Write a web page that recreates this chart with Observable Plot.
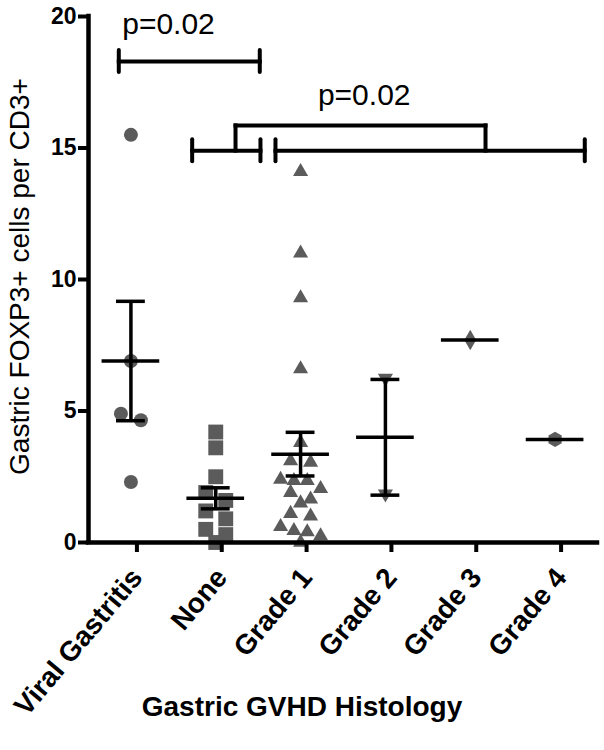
<!DOCTYPE html>
<html><head><meta charset="utf-8">
<script src="https://cdn.jsdelivr.net/npm/d3@7"></script>
<script src="https://cdn.jsdelivr.net/npm/@observablehq/plot@0.6"></script>
<style>body{margin:0;background:#fff}</style>
</head><body><div id="chart"></div>
<script>
// ---- data ----
const categories = ["Viral Gastritis", "None", "Grade 1", "Grade 2", "Grade 3", "Grade 4"];
const viralValues = [15.5, 6.9, 4.9, 4.65, 2.3];
const noneValues = [4.2, 3.6, 2.5, 1.9, 1.6, 1.2, 0.9, 0.5, 0.3, 0.0];
const grade1Values = [14.1, 11.0, 9.3, 6.6, 3.8, 3.1, 3.05, 2.4, 2.35, 2.35, 2.05, 1.9, 1.65, 1.5, 1.1, 1.0, 0.6, 0.45, 0.4, 0.25, 0.0];
const grade2Values = [6.25, 1.85];
const grade3Values = [7.7];
const grade4Values = [3.92];
const groupMeans = [6.9, 1.68, 3.36, 4.0, 7.7, 3.92];
const groupSEM = [2.27, 0.40, 0.83, 2.2, null, null];
const yTicks = [0, 5, 10, 15, 20];
const pLabels = ["p=0.02", "p=0.02"];
const yTitle = "Gastric FOXP3+ cells per CD3+";
const xTitle = "Gastric GVHD Histology";

// ---- layout ----
const W = 604, H = 750;
const mL = 88, mR = 7, mT = 16, mB = 208;
const pxX = (W - mL - mR) / 6;      // px per category unit
const pxY = (H - mT - mB) / 20;     // px per y unit
const grey = "#5b5b5b";
const font = "'Liberation Sans', Arial, sans-serif";

// inverted triangle symbol
const triangleDown = {
  draw(context, size) {
    const s3 = Math.sqrt(3);
    const y = -Math.sqrt(size / (s3 * 3));
    context.moveTo(0, -y * 2);
    context.lineTo(-s3 * y, y);
    context.lineTo(s3 * y, y);
    context.closePath();
  }
};

const groups = [
  {values: viralValues, symbol: "circle", r: 7},
  {values: noneValues, symbol: "square", r: 8.4},
  {values: grade1Values, symbol: "triangle", r: 5.6},
  {values: grade2Values, symbol: triangleDown, r: 5.6},
  {values: grade3Values, symbol: "diamond", r: 6.2},
  {values: grade4Values, symbol: "hexagon", r: 6.6}
];

// scatter-dot layout: points binned into rows, each row centred on the category
function dodge(values, i) {
  const rowH = 10 / pxY;
  const sorted = values.slice().sort((a, b) => b - a);
  const rows = [];
  for (const v of sorted) {
    const row = rows[rows.length - 1];
    if (row && row[0] - v < rowH) row.push(v); else rows.push([v]);
  }
  const out = [];
  rows.forEach(row => {
    const n = row.length;
    const step = n <= 2 ? 20 : Math.min(20, 40 / (n - 1));
    row.forEach((v, k) => out.push({x: i + (k - (n - 1) / 2) * step / pxX, v}));
  });
  return out;
}

const summary = groupMeans.map((m, i) => ({i, m, s: groupSEM[i]}));
const withSEM = summary.filter(d => d.s != null);

// bracket annotations (data units)
const bracketLines = [
  {x1: -0.143, x2: 1.519, y1: 18.29, y2: 18.29},
  {x1: 0.722, x2: 1.527, y1: 14.9, y2: 14.9},
  {x1: 1.704, x2: 5.35, y1: 14.9, y2: 14.9},
  {x1: 1.233, x2: 4.18, y1: 15.86, y2: 15.86},
  {x1: 1.233, x2: 1.233, y1: 14.9, y2: 15.86},
  {x1: 4.18, x2: 4.18, y1: 14.9, y2: 15.86}
];
const bracketCaps = [
  {x: -0.143, y: 18.29}, {x: 1.519, y: 18.29},
  {x: 0.722, y: 14.9}, {x: 1.527, y: 14.9},
  {x: 1.704, y: 14.9}, {x: 5.35, y: 14.9}
];
const pText = [{x: 0.443, y: 19.7, t: pLabels[0]}, {x: 2.75, y: 17.0, t: pLabels[1]}];

const capH = 11 / pxY, meanHalf = 0.34, capHalf = 0.17;

const marks = [];
groups.forEach((g, i) => {
  marks.push(Plot.dot(dodge(g.values, i), {x: "x", y: "v", symbol: () => g.symbol, r: g.r, fill: grey, stroke: "none"}));
});
marks.push(
  // error bars and means
  Plot.ruleX(withSEM, {x: "i", y1: d => d.m - d.s, y2: d => d.m + d.s, stroke: "#000", strokeWidth: 3.5}),
  Plot.ruleY(withSEM, {y: d => d.m + d.s, x1: d => d.i - capHalf, x2: d => d.i + capHalf, stroke: "#000", strokeWidth: 3.5}),
  Plot.ruleY(withSEM, {y: d => d.m - d.s, x1: d => d.i - capHalf, x2: d => d.i + capHalf, stroke: "#000", strokeWidth: 3.5}),
  Plot.ruleY(summary, {y: "m", x1: d => d.i - meanHalf, x2: d => d.i + meanHalf, stroke: "#000", strokeWidth: 3.5}),
  // brackets
  Plot.link(bracketLines, {x1: "x1", x2: "x2", y1: "y1", y2: "y2", stroke: "#000", strokeWidth: 4, strokeLinecap: "square"}),
  Plot.ruleX(bracketCaps, {x: "x", y1: d => d.y - capH, y2: d => d.y + capH, stroke: "#000", strokeWidth: 4, strokeLinecap: "round"}),
  Plot.text(pText, {x: "x", y: "y", text: "t", fontSize: 30, fill: "#000", textAnchor: "middle"}),
  // axes
  Plot.ruleX([-0.5], {y1: 0, y2: 20, stroke: "#000", strokeWidth: 4.5, strokeLinecap: "square"}),
  Plot.ruleY([0], {x1: -0.5, x2: 5.5, stroke: "#000", strokeWidth: 4.5, strokeLinecap: "square"}),
  Plot.axisY(yTicks, {tickSize: 10, tickPadding: 2, strokeWidth: 4, fontSize: 23, fontWeight: "bold", fill: "#000", label: null}),
  Plot.axisX(d3.range(categories.length), {tickSize: 10, tickPadding: 20, dx: 6, tickRotate: -50, strokeWidth: 4,
    tickFormat: i => categories[i], fontSize: 28, fontWeight: "bold", fill: "#000", label: null}),
  Plot.text([yTitle], {frameAnchor: "left", dx: -68, dy: -3, rotate: -90, textAnchor: "middle", text: d => d, fontSize: 28, fill: "#000"}),
  Plot.text([xTitle], {frameAnchor: "bottom", dx: -41, dy: 173, text: d => d, fontSize: 28, fontWeight: "bold", fill: "#000"})
);

const chart = Plot.plot({
  width: W, height: H,
  marginLeft: mL, marginRight: mR, marginTop: mT, marginBottom: mB,
  style: {fontFamily: font, background: "#fff", color: "#000", overflow: "visible"},
  x: {type: "linear", domain: [-0.5, 5.5], axis: null},
  y: {domain: [0, 20], axis: null},
  marks
});
document.getElementById("chart").appendChild(chart);
</script>
</body></html>
